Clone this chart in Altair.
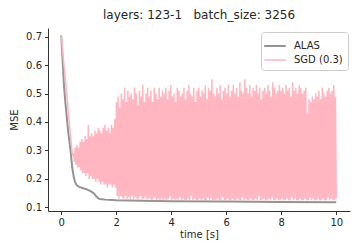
import altair as alt
import numpy as np
import pandas as pd

# ALAS curve
alas_t = [0, 0.05, 0.1, 0.15, 0.2, 0.25, 0.3, 0.35, 0.4, 0.45, 0.5, 0.56, 0.65, 0.8, 0.95, 1.1, 1.2, 1.29, 1.35, 1.41, 1.6, 2.0, 3.0, 4.0, 6.0, 8.0, 10.0]
alas_v = [0.705, 0.62, 0.53, 0.47, 0.42, 0.37, 0.33, 0.29, 0.24, 0.21, 0.19, 0.178, 0.172, 0.167, 0.162, 0.155, 0.148, 0.137, 0.131, 0.129, 0.127, 0.125, 0.123, 0.121, 0.120, 0.119, 0.118]

# SGD initial descent
sgd_start_t = [0, 0.1, 0.2, 0.3, 0.38, 0.42]
sgd_start_v = [0.705, 0.60, 0.50, 0.39, 0.31, 0.28]

# SGD oscillation: peaks and troughs (alternating), from t=0.45 to t=10
sgd_peaks = [
    0.29, 0.31, 0.32, 0.31, 0.33, 0.34, 0.33, 0.35, 0.34, 0.39, 0.35, 0.36, 0.35,
    0.37, 0.36, 0.38, 0.37, 0.36, 0.38, 0.39, 0.37, 0.38, 0.36, 0.39, 0.38, 0.41,
    0.47, 0.49, 0.45, 0.50, 0.48, 0.52, 0.47, 0.51, 0.49, 0.50,
    0.48, 0.52, 0.50, 0.46, 0.51, 0.49, 0.53, 0.47, 0.50, 0.52,
    0.49, 0.51, 0.47, 0.52, 0.50, 0.48, 0.52, 0.49, 0.51, 0.50,
    0.52, 0.48, 0.51, 0.53, 0.49, 0.50, 0.47, 0.52, 0.51, 0.49,
    0.50, 0.52, 0.48, 0.51, 0.53, 0.50, 0.49, 0.52, 0.47, 0.51,
    0.52, 0.49, 0.51, 0.50, 0.53, 0.48, 0.52, 0.51, 0.55, 0.50,
    0.49, 0.52, 0.50, 0.53, 0.48, 0.51, 0.52, 0.50, 0.53, 0.49,
    0.51, 0.53, 0.50, 0.52, 0.49, 0.54, 0.51, 0.50, 0.55, 0.52,
    0.50, 0.53, 0.49, 0.52, 0.51, 0.53, 0.50, 0.52, 0.48, 0.51,
    0.52, 0.50, 0.53, 0.51, 0.49, 0.54, 0.52, 0.50, 0.51, 0.53,
    0.51, 0.52, 0.50, 0.53, 0.51, 0.52, 0.49, 0.54, 0.51, 0.52,
    0.50, 0.53, 0.52, 0.50, 0.51, 0.52, 0.43, 0.48, 0.47, 0.49,
    0.48, 0.50, 0.49, 0.51, 0.48, 0.52, 0.50, 0.49, 0.51, 0.52,
    0.50, 0.51, 0.53, 0.49,
]
sgd_troughs = [
    0.26, 0.25, 0.24, 0.24, 0.23, 0.22, 0.22, 0.21, 0.22, 0.20, 0.21, 0.20, 0.20,
    0.19, 0.20, 0.19, 0.18, 0.19, 0.18, 0.18, 0.17, 0.18, 0.18, 0.17, 0.18, 0.17,
    0.14, 0.13, 0.14, 0.135, 0.13, 0.14, 0.13, 0.135, 0.13, 0.14,
    0.13, 0.135, 0.13, 0.13, 0.14, 0.13, 0.13, 0.135, 0.13, 0.13,
    0.13, 0.125, 0.13, 0.135, 0.125, 0.13, 0.125, 0.13, 0.125, 0.13,
    0.125, 0.13, 0.14, 0.125, 0.13, 0.125, 0.13, 0.125, 0.135, 0.125,
    0.13, 0.125, 0.125, 0.13, 0.125, 0.14, 0.125, 0.13, 0.125, 0.125,
    0.13, 0.125, 0.13, 0.125, 0.125, 0.135, 0.125, 0.13, 0.125, 0.125,
    0.125, 0.13, 0.125, 0.125, 0.135, 0.125, 0.125, 0.13, 0.125, 0.125,
    0.13, 0.125, 0.125, 0.13, 0.125, 0.125, 0.135, 0.125, 0.13, 0.125,
    0.125, 0.13, 0.125, 0.125, 0.13, 0.125, 0.14, 0.125, 0.125, 0.13,
    0.125, 0.125, 0.13, 0.125, 0.135, 0.125, 0.125, 0.13, 0.125, 0.125,
    0.13, 0.125, 0.125, 0.13, 0.125, 0.125, 0.135, 0.125, 0.13, 0.125,
    0.125, 0.13, 0.125, 0.125, 0.13, 0.125, 0.125, 0.135, 0.125, 0.13,
    0.125, 0.125, 0.13, 0.125, 0.125, 0.13, 0.125, 0.125, 0.135, 0.125,
    0.13, 0.125, 0.125, 0.13,
]

n = len(sgd_peaks)
osc_t = np.linspace(0.45, 10.0, 2 * n)
osc_v = []
for p, q in zip(sgd_peaks, sgd_troughs):
    osc_v += [p, q]

rows = []
for t, v in zip(alas_t, alas_v):
    rows.append({"series": "ALAS", "t": t, "v": v})
for t, v in zip(sgd_start_t, sgd_start_v):
    rows.append({"series": "SGD (0.3)", "t": t, "v": v})
for t, v in zip(osc_t, osc_v):
    rows.append({"series": "SGD (0.3)", "t": float(t), "v": v})
df = pd.DataFrame(rows)

FONT = "DejaVu Sans"
SERIES = ["ALAS", "SGD (0.3)"]

x = alt.X("t:Q", title="time [s]",
          scale=alt.Scale(domain=[-0.48, 10.5], nice=False, zero=False),
          axis=alt.Axis(values=[0, 2, 4, 6, 8, 10], format="d"))
y = alt.Y("v:Q", title="MSE",
          scale=alt.Scale(domain=[0.087, 0.7305], nice=False, zero=False),
          axis=alt.Axis(values=[0.1, 0.2, 0.3, 0.4, 0.5, 0.6, 0.7], format=".1f"))
color = alt.Color("series:N",
                  scale=alt.Scale(domain=SERIES, range=["#939393", "#FFB6C1"]),
                  legend=alt.Legend(title=None, orient="none", legendX=213, legendY=4,
                                    symbolType="M-1.35,0H1.35", symbolSize=256,
                                    symbolStrokeWidth=2,
                                    labelFontSize=10, labelFont=FONT, labelColor="#262626",
                                    labelOffset=10, padding=5, rowPadding=0,
                                    strokeColor="#cccccc", fillColor="white", cornerRadius=3))
width = alt.StrokeWidth("series:N", scale=alt.Scale(domain=SERIES, range=[2.0, 1.5]), legend=None)

chart = alt.Chart(df).mark_line(clip=True).encode(
    x=x, y=y, color=color, strokeWidth=width,
    order=alt.Order("t:Q"),
    detail="series:N",
).properties(
    width=302, height=183,
    title=alt.Title("layers: 123-1\u00a0\u00a0\u00a0batch_size: 3256", fontSize=12, font=FONT,
                    fontWeight="normal", color="#262626", offset=6),
    autosize=alt.AutoSizeParams(type="none"),
    padding={"left": 40, "top": 20, "right": 2, "bottom": 33},
).configure_view(stroke=None).configure_axis(
    grid=False, domainColor="#333333", tickColor="#333333", labelColor="#262626",
    titleColor="#262626", labelFont=FONT, titleFont=FONT, labelFontSize=10,
    titleFontSize=10, titleFontWeight="normal", tickSize=3.5, labelPadding=3,
    domainWidth=1, tickWidth=1,
).configure_axisY(titlePadding=6).configure_axisX(titlePadding=2)

chart.save("out.html", embed_options={"renderer": "svg", "actions": False})
